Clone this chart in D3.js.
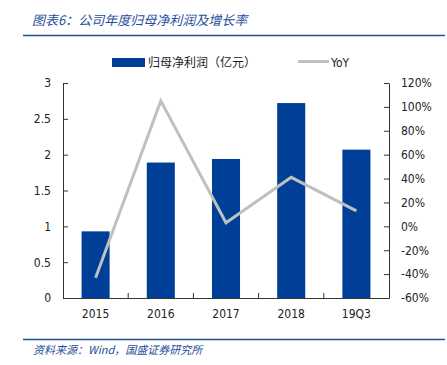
<!DOCTYPE html>
<html>
<head>
<meta charset="utf-8">
<script src="https://cdn.jsdelivr.net/npm/d3@7"></script>
<style>
body { margin: 0; background: #fff; }
text { font-family: "DejaVu Sans", "Noto Sans CJK SC", sans-serif; }
.cjk { font-family: "Noto Sans CJK SC", sans-serif; }
</style>
</head>
<body>
<script>
var width = 447, height = 365;

var categories = ["2015", "2016", "2017", "2018", "19Q3"];
var profit = [0.93, 1.89, 1.94, 2.72, 2.07];
var yoy = [-43, 105, 3, 41, 13];
var leftTicks = [0, 0.5, 1, 1.5, 2, 2.5, 3];
var rightTicks = [-60, -40, -20, 0, 20, 40, 60, 80, 100, 120];

var blue = "#003f98";
var grey = "#c0c0c0";
var axisColor = "#333";
var numFont = "'DejaVu Sans Condensed', 'DejaVu Sans', sans-serif";

var margin = {left: 63, right: 58, top: 83, bottom: 67};

var svg = d3.select("body").append("svg")
    .attr("width", width)
    .attr("height", height);

// title + rules
svg.append("text").attr("class", "cjk")
    .attr("x", 32).attr("y", 25)
    .attr("fill", "#1f4e9c")
    .style("font-size", "13px")
    .style("font-style", "italic")
    .text("图表6：公司年度归母净利润及增长率");
svg.append("line").attr("x1", 23).attr("x2", 445).attr("y1", 35.5).attr("y2", 35.5)
    .attr("stroke", "#1f4e9c").attr("stroke-width", 1.5);
svg.append("line").attr("x1", 23).attr("x2", 445).attr("y1", 339.5).attr("y2", 339.5)
    .attr("stroke", "#1f4e9c").attr("stroke-width", 1.5);
svg.append("text").attr("class", "cjk")
    .attr("x", 33).attr("y", 354)
    .attr("fill", "#1f4e9c")
    .style("font-size", "11px")
    .style("font-style", "italic")
    .text("资料来源：Wind，国盛证券研究所");

var x = d3.scaleBand()
    .domain(categories)
    .range([margin.left, width - margin.right])
    .paddingInner(0.57)
    .paddingOuter(0.285);

var y = d3.scaleLinear().domain([0, 3]).range([height - margin.bottom, margin.top]);
var y2 = d3.scaleLinear().domain([-60, 120]).range([height - margin.bottom, margin.top]);

// bars
svg.append("g").selectAll("rect")
    .data(profit)
    .enter().append("rect")
    .attr("x", function(d, i) { return x(categories[i]); })
    .attr("width", x.bandwidth())
    .attr("y", function(d) { return y(d); })
    .attr("height", function(d) { return y(0) - y(d); })
    .attr("fill", blue);

// yoy line
var line = d3.line()
    .x(function(d, i) { return x(categories[i]) + x.bandwidth() / 2; })
    .y(function(d) { return y2(d); });
svg.append("path")
    .datum(yoy)
    .attr("d", line)
    .attr("fill", "none")
    .attr("stroke", grey)
    .attr("stroke-width", 3);

// axes
var leftAxis = d3.axisLeft(y).tickValues(leftTicks).tickSizeInner(-5).tickSizeOuter(-5).tickPadding(12)
    .tickFormat(d3.format("~g"));
var gl = svg.append("g").attr("transform", "translate(" + margin.left + ",0)").call(leftAxis);

var rightAxis = d3.axisRight(y2).tickValues(rightTicks).tickSizeInner(-5).tickSizeOuter(0).tickPadding(12)
    .tickFormat(function(d) { return d + "%"; });
var gr = svg.append("g").attr("transform", "translate(" + (width - margin.right) + ",0)").call(rightAxis);

var bottomAxis = d3.axisBottom(x).tickSize(0).tickPadding(11);
var gb = svg.append("g").attr("transform", "translate(0," + y(0) + ")").call(bottomAxis);

// inward ticks between categories on the x axis
svg.append("g").selectAll("line")
    .data(categories.slice(1))
    .enter().append("line")
    .attr("x1", function(d) { return x(d) - x.step() * x.paddingInner() / 2; })
    .attr("x2", function(d) { return x(d) - x.step() * x.paddingInner() / 2; })
    .attr("y1", y(0)).attr("y2", y(0) - 5)
    .attr("stroke", axisColor);

[gl, gr, gb].forEach(function(g) {
    g.selectAll("path, line").attr("stroke", axisColor);
    g.selectAll("text").attr("fill", "#222").style("font-size", "12px")
        .style("font-family", numFont);
});

// legend
var legend = svg.append("g");
legend.append("rect").attr("x", 112).attr("y", 58).attr("width", 33).attr("height", 9).attr("fill", blue);
legend.append("text").attr("class", "cjk").attr("x", 148).attr("y", 67)
    .attr("fill", "#222").style("font-size", "12px").text("归母净利润（亿元）");
legend.append("line").attr("x1", 298).attr("x2", 329).attr("y1", 61.5).attr("y2", 61.5)
    .attr("stroke", grey).attr("stroke-width", 3);
legend.append("text").attr("x", 331).attr("y", 67)
    .attr("fill", "#222").style("font-size", "12px").style("font-family", numFont).text("YoY");
</script>
</body>
</html>
